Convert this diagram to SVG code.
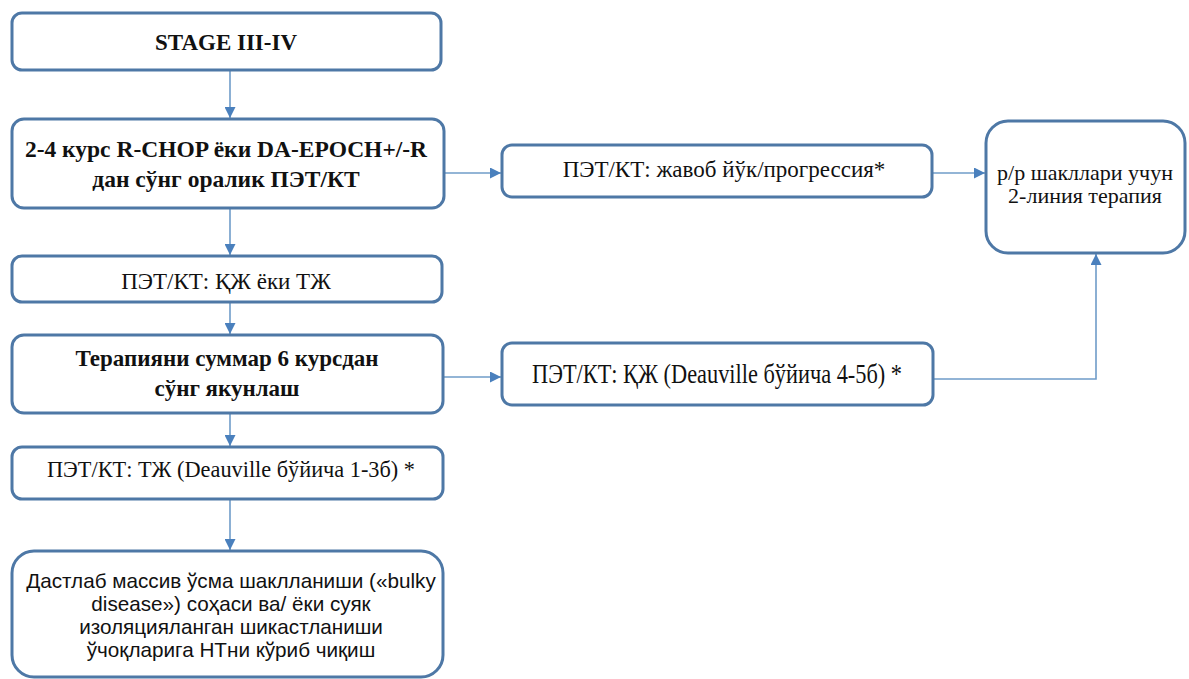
<svg xmlns="http://www.w3.org/2000/svg" width="1189" height="679" viewBox="0 0 1189 679">
<defs>
<marker id="ah" viewBox="0 0 10 10" refX="10" refY="5" markerWidth="11" markerHeight="11" orient="auto" markerUnits="userSpaceOnUse">
<path d="M0,0 L10,5 L0,10 z" fill="#4a80bd"/>
</marker>
<style>
.box{fill:#fff;stroke:#4e78a6;stroke-width:3}
.c{fill:none;stroke:#6f9cc9;stroke-width:1.6}
.t{font-family:"Liberation Serif","Times New Roman",serif;font-size:23px;fill:#111;text-anchor:middle}
.b{font-weight:bold}
.s{font-family:"Liberation Sans",Arial,sans-serif;font-size:20.7px;fill:#111;text-anchor:middle}
</style>
</defs>
<rect width="1189" height="679" fill="#fff"/>
<g id="connectors">
<line class="c" x1="230" y1="71" x2="230" y2="118" marker-end="url(#ah)"/>
<line class="c" x1="230" y1="209" x2="230" y2="255" marker-end="url(#ah)"/>
<line class="c" x1="230" y1="303" x2="230" y2="334" marker-end="url(#ah)"/>
<line class="c" x1="230" y1="414" x2="230" y2="446" marker-end="url(#ah)"/>
<line class="c" x1="230" y1="500" x2="230" y2="550" marker-end="url(#ah)"/>
<line class="c" x1="445" y1="173" x2="501" y2="173" marker-end="url(#ah)"/>
<line class="c" x1="933" y1="173" x2="985" y2="173" marker-end="url(#ah)"/>
<line class="c" x1="444" y1="377" x2="501" y2="377" marker-end="url(#ah)"/>
<polyline class="c" points="934,379 1096,379 1096,254" marker-end="url(#ah)"/>
</g>
<g id="n1"><rect class="box" x="12" y="13" width="429" height="57" rx="10"/>
<text class="t b" x="226" y="50">STAGE III-IV</text></g>
<g id="n2"><rect class="box" x="12" y="119" width="432" height="89" rx="12"/>
<text class="t b" x="226" y="157" style="font-size:23.5px">2-4 курс R-CHOP ёки DA-EPOCH+/-R</text>
<text class="t b" x="226" y="187" style="font-size:23.5px">дан сўнг оралик ПЭТ/КТ</text></g>
<g id="n3"><rect class="box" x="502" y="145" width="430" height="52" rx="10"/>
<text class="t" x="724" y="177">ПЭТ/КТ: жавоб йўк/прогрессия*</text></g>
<g id="n4"><rect class="box" x="986" y="121" width="199" height="132" rx="22"/>
<text class="t" x="1085" y="180" style="font-size:22px">р/р шакллари учун</text>
<text class="t" x="1085" y="203" style="font-size:22px">2-линия терапия</text></g>
<g id="n5"><rect class="box" x="12" y="256" width="430" height="46" rx="10"/>
<text class="t" x="226" y="289">ПЭТ/КТ: ҚЖ ёки ТЖ</text></g>
<g id="n6"><rect class="box" x="12" y="335" width="431" height="78" rx="12"/>
<text class="t b" x="227" y="366">Терапияни суммар 6 курсдан</text>
<text class="t b" x="227" y="396">сўнг якунлаш</text></g>
<g id="n7"><rect class="box" x="502" y="343" width="431" height="62" rx="10"/>
<text class="t" x="717" y="383" style="font-size:27px" textLength="370" lengthAdjust="spacingAndGlyphs">ПЭТ/КТ: ҚЖ (Deauville бўйича 4-5б) *</text></g>
<g id="n8"><rect class="box" x="12" y="447" width="431" height="52" rx="10"/>
<text class="t" x="231" y="477" style="font-size:22.3px">ПЭТ/КТ: ТЖ (Deauville бўйича 1-3б) *</text></g>
<g id="n9"><rect class="box" x="12" y="551" width="431" height="126" rx="22"/>
<text class="s" x="231" y="588">Дастлаб массив ўсма шаклланиши («bulky</text>
<text class="s" x="231" y="611">disease») соҳаси ва/ ёки суяк</text>
<text class="s" x="231" y="634">изоляцияланган шикастланиши</text>
<text class="s" x="231" y="657">ўчоқларига НТни кўриб чиқиш</text></g>
</svg>
